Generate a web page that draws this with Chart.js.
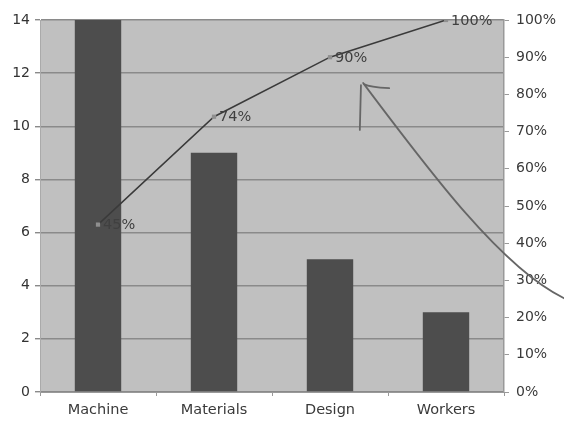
<!DOCTYPE html>
<html>
<head>
<meta charset="utf-8">
<script src="https://cdn.jsdelivr.net/npm/chart.js@4/dist/chart.umd.min.js"></script>
<style>
  html, body { margin: 0; padding: 0; background: #fff; }
  #wrap { width: 564px; height: 426px; }
</style>
</head>
<body>
<div id="wrap"><canvas id="paretoChart" width="564" height="426"></canvas></div>
<script>
const categories = ['Machine', 'Materials', 'Design', 'Workers'];
const counts = [14, 9, 5, 3];
const cumulativePct = [45, 74, 90, 100];
const countTicks = [0, 2, 4, 6, 8, 10, 12, 14];
const pctTicks = [0, 10, 20, 30, 40, 50, 60, 70, 80, 90, 100];

const FONT = 'DejaVu Sans, Verdana, sans-serif';

// Gray plot area background
const plotBg = {
    id: 'plotBg',
    beforeDraw(chart) {
        const { ctx, chartArea: a } = chart;
        ctx.save();
        ctx.fillStyle = '#c0c0c0';
        ctx.fillRect(a.left, a.top, a.right - a.left, a.bottom - a.top);
        ctx.restore();
    }
};

// Percent labels next to the line points
const pointLabels = {
    id: 'pointLabels',
    afterDatasetsDraw(chart) {
        const { ctx } = chart;
        const meta = chart.getDatasetMeta(1);
        ctx.save();
        ctx.font = '14.5px ' + FONT;
        ctx.fillStyle = '#404040';
        ctx.textBaseline = 'middle';
        meta.data.forEach((pt, i) => {
            ctx.fillText(cumulativePct[i] + '%', pt.x + 5, pt.y + 1);
        });
        ctx.restore();
    }
};

// Hand-drawn arrow annotation
const scribble = {
    id: 'scribble',
    afterDraw(chart) {
        const { ctx, width: w, height: h } = chart;
        ctx.save();
        ctx.strokeStyle = '#666';
        ctx.lineWidth = 1.8;
        ctx.lineCap = 'round';
        ctx.beginPath();
        ctx.moveTo(w * 1.0, h * 0.70);
        ctx.bezierCurveTo(w * 0.89, h * 0.63, w * 0.76, h * 0.40, w * 0.644, h * 0.195);
        ctx.stroke();
        ctx.beginPath();
        ctx.moveTo(w * 0.638, h * 0.305);
        ctx.lineTo(w * 0.640, h * 0.20);
        ctx.stroke();
        ctx.beginPath();
        ctx.moveTo(w * 0.646, h * 0.198);
        ctx.quadraticCurveTo(w * 0.655, h * 0.205, w * 0.69, h * 0.207);
        ctx.stroke();
        ctx.restore();
    }
};

const ctx = document.getElementById('paretoChart').getContext('2d');

new Chart(ctx, {
    data: {
        labels: categories,
        datasets: [{
            type: 'bar',
            data: counts,
            backgroundColor: '#4d4d4d',
            barPercentage: 0.8,
            categoryPercentage: 0.5,
            yAxisID: 'y',
            order: 2
        }, {
            type: 'line',
            data: cumulativePct,
            borderColor: '#3a3a3a',
            borderWidth: 1.5,
            pointStyle: 'rect',
            pointRadius: 3,
            pointBackgroundColor: '#8f8f8f',
            pointBorderColor: '#8f8f8f',
            pointBorderWidth: 0,
            tension: 0,
            yAxisID: 'y1',
            order: 1
        }]
    },
    options: {
        responsive: false,
        animation: false,
        layout: { padding: { top: 20, left: 0, right: 0, bottom: 0 } },
        plugins: {
            legend: { display: false },
            tooltip: { enabled: false }
        },
        scales: {
            x: {
                offset: true,
                grid: {
                    offset: true,
                    drawOnChartArea: false,
                    tickLength: 4,
                    color: '#999'
                },
                border: { color: '#999' },
                ticks: { color: '#3a3a3a', font: { family: FONT, size: 14.5 }, padding: 6 },
                afterFit(s) { s.height = 34; }
            },
            y: {
                position: 'left',
                min: 0,
                max: 14,
                afterBuildTicks(s) { s.ticks = countTicks.map(v => ({ value: v })); },
                grid: { color: '#8a8a8a', lineWidth: 1.4, tickLength: 5 },
                border: { color: '#aaa' },
                ticks: { color: '#333', font: { family: FONT, size: 14 }, padding: 5 },
                afterFit(s) { s.width = 40; }
            },
            y1: {
                position: 'right',
                min: 0,
                max: 100,
                afterBuildTicks(s) { s.ticks = pctTicks.map(v => ({ value: v })); },
                grid: { drawOnChartArea: false, color: '#999', tickLength: 5 },
                border: { color: '#999', width: 1.5 },
                ticks: {
                    color: '#3a3a3a',
                    font: { family: FONT, size: 14 },
                    padding: 7,
                    callback: v => v + '%'
                },
                afterFit(s) { s.width = 60; }
            }
        }
    },
    plugins: [plotBg, pointLabels, scribble]
});
</script>
</body>
</html>
